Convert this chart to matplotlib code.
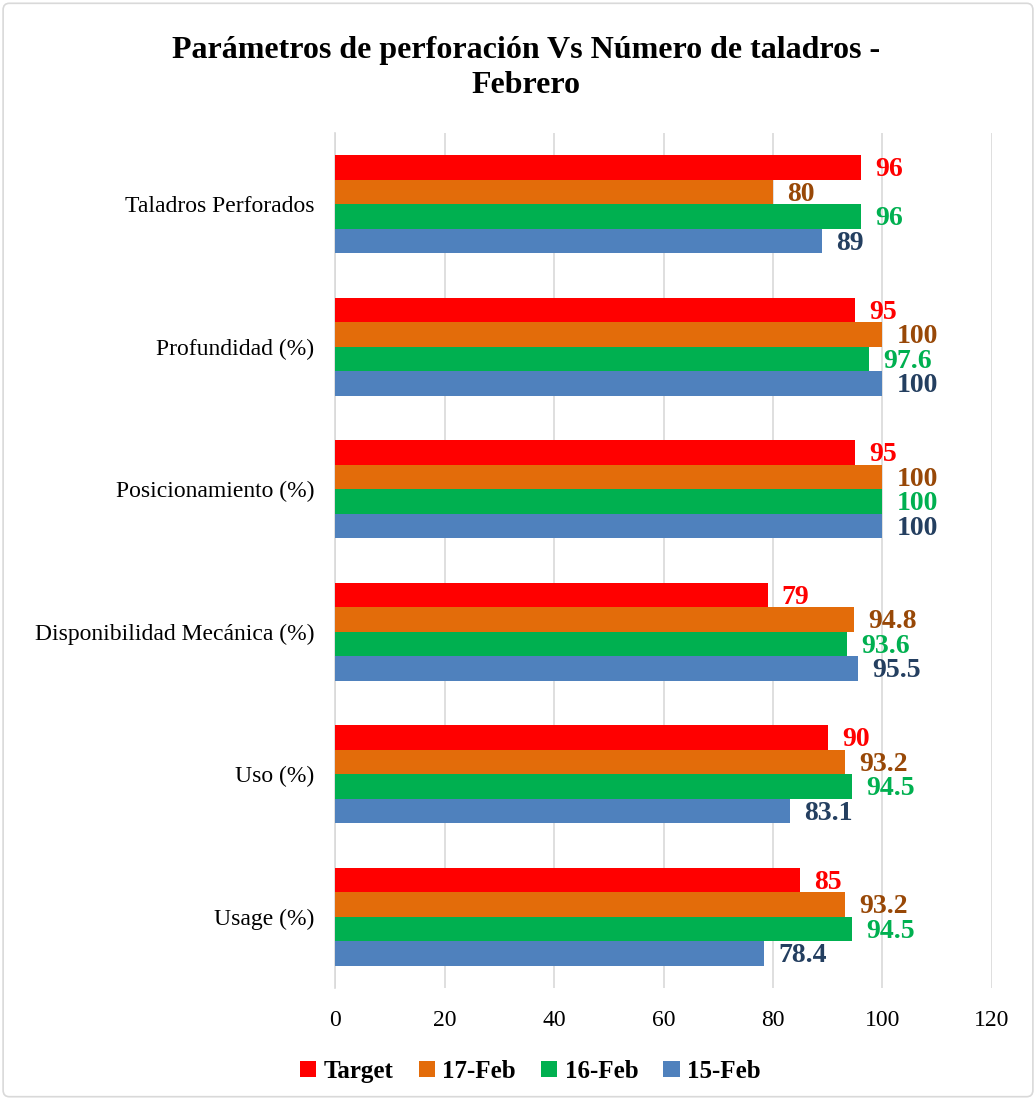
import numpy as np
import matplotlib.pyplot as plt
from matplotlib.patches import FancyBboxPatch

plt.rcParams['font.family'] = ['Liberation Serif', 'DejaVu Serif']

categories = ["Taladros Perforados", "Profundidad (%)", "Posicionamiento (%)",
              "Disponibilidad Mecánica (%)", "Uso (%)", "Usage (%)"]
series_names = ["Target", "17-Feb", "16-Feb", "15-Feb"]
target = [96, 95, 95, 79, 90, 85]
feb17 = [80, 100, 100, 94.8, 93.2, 93.2]
feb16 = [96, 97.6, 100, 93.6, 94.5, 94.5]
feb15 = [89, 100, 100, 95.5, 83.1, 78.4]

bar_colors = ["#FF0000", "#E36C0A", "#00B050", "#4F81BD"]
label_colors = ["#FF0000", "#984807", "#00B050", "#243F60"]


def main():
    fig = plt.figure(figsize=(10.36, 11), dpi=100)
    ax = fig.add_axes([0.3234, 0.1018, 0.6341, 0.7772])

    values = [target, feb17, feb16, feb15]
    n = len(categories)
    y = np.arange(n)[::-1]  # first category at top
    h = 0.172
    offsets = [1.5 * h, 0.5 * h, -0.5 * h, -1.5 * h]

    handles = []
    for vals, off, c, lc, name in zip(values, offsets, bar_colors, label_colors, series_names):
        bars = ax.barh(y + off, vals, height=h, color=c, label=name, zorder=3)
        handles.append(bars)
        for yy, v in zip(y + off, vals):
            txt = ("%g" % v)
            ax.text(v + 2.6, yy - 0.015, txt, color=lc, fontsize=20, fontweight="bold",
                    va="center", ha="left", zorder=4)

    ax.set_xlim(0, 120)
    ax.set_ylim(-0.5, n - 0.5)
    ax.set_xticks(range(0, 121, 20))
    ax.set_yticks(y)
    ax.set_yticklabels(categories, fontsize=17)
    ax.tick_params(axis="x", labelsize=17, length=0, pad=16)
    ax.tick_params(axis="y", length=0, pad=15)
    ax.grid(axis="x", color="#D9D9D9", linewidth=1.2, zorder=0)
    for s in ["top", "right", "bottom"]:
        ax.spines[s].set_visible(False)
    ax.spines["left"].set_color("#D9D9D9")
    ax.spines["left"].set_linewidth(1.2)

    fig.text(0.508, 0.938, "Parámetros de perforación Vs Número de taladros -\nFebrero",
             ha="center", va="center", fontsize=23, fontweight="bold", linespacing=1.25)

    fig.legend(handles=handles, labels=series_names, loc="center", bbox_to_anchor=(0.512, 0.026),
               ncol=4, frameon=False, prop={"weight": "bold", "size": 18},
               handlelength=0.65, handleheight=0.65, handletextpad=0.3, columnspacing=1.0)

    border = FancyBboxPatch((0.003, 0.003), 0.994, 0.994, boxstyle="round,pad=0,rounding_size=0.006",
                            transform=fig.transFigure, fill=False, edgecolor="#D9D9D9", linewidth=1.2)
    fig.patches.append(border)

    fig.savefig("out.png", dpi=100)
    plt.close(fig)


main()
